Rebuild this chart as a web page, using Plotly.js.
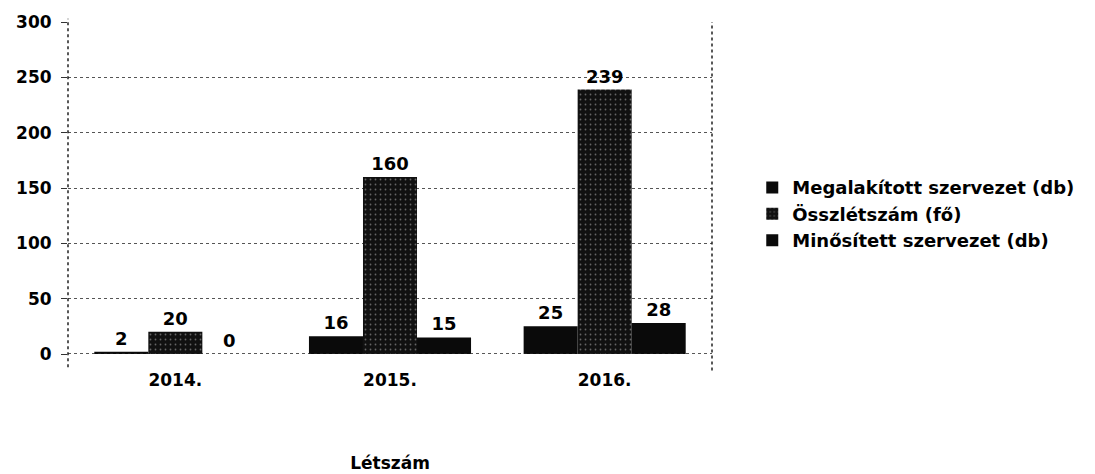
<!DOCTYPE html>
<html>
<head>
<meta charset="utf-8">
<script src="https://cdn.plot.ly/plotly-3.0.1.min.js"></script>
<style>html,body{margin:0;padding:0;background:#fff;}#chart{width:1095px;height:474px;}</style>
</head>
<body>
<div id="chart"></div>
<script>
const categories = ['2014.', '2015.', '2016.'];
const seriesNames = ['Megalakított szervezet (db)', 'Összlétszám (fő)', 'Minősített szervezet (db)'];
const megalakitott = [2, 16, 25];
const osszletszam = [20, 160, 239];
const minositett = [0, 15, 28];
const yTicks = [0, 50, 100, 150, 200, 250, 300];
const xTitle = 'Létszám';

const FONT = 'DejaVu Sans, Liberation Sans, Arial, sans-serif';
const labelFont = {family: FONT, size: 18, color: '#000', weight: 'bold'};

function barTrace(name, values, marker) {
  return {
    type: 'bar', name: name, x: categories, y: values,
    text: values.map(String), textposition: 'outside', cliponaxis: false,
    textfont: labelFont, marker: marker, hoverinfo: 'skip'
  };
}

const traces = [
  barTrace(seriesNames[0], megalakitott, {color: '#0a0a0a', line: {width: 0}}),
  barTrace(seriesNames[1], osszletszam, {color: '#111', line: {width: 0},
    pattern: {shape: '.', bgcolor: '#111', fgcolor: '#666', size: 5, solidity: 0.1}}),
  barTrace(seriesNames[2], minositett, {color: '#0a0a0a', line: {width: 0}})
];

const layout = {
  width: 1095, height: 474,
  paper_bgcolor: '#fff', plot_bgcolor: '#fff',
  margin: {l: 68, r: 383, t: 22, b: 120, autoexpand: false},
  barmode: 'group', bargap: 0.245, bargroupgap: 0,
  showlegend: true,
  legend: {xref: 'container', yref: 'container', x: 0.687, xanchor: 'left', y: 0.548, yanchor: 'middle',
    font: {family: FONT, size: 18, color: '#000', weight: 'bold'},
    tracegroupgap: 0, itemwidth: 30, bgcolor: 'rgba(0,0,0,0)'},
  xaxis: {
    type: 'category', showgrid: false, zeroline: false, showline: false,
    ticks: '', tickfont: {family: FONT, size: 17, color: '#000', weight: 'bold'},
    ticklabelstandoff: 14,
    title: {text: xTitle, font: {family: FONT, size: 17, color: '#000', weight: 'bold'}, standoff: 68}
  },
  yaxis: {
    range: [0, 300], tickvals: yTicks, ticktext: yTicks.map(String),
    showgrid: true, gridcolor: '#555', griddash: 'dot', gridwidth: 1,
    zeroline: false, showline: false,
    ticks: 'outside', ticklen: 6, tickcolor: '#333',
    tickfont: {family: FONT, size: 17, color: '#000', weight: 'bold'},
    ticklabelstandoff: 6
  },
  shapes: [
    {type: 'line', xref: 'paper', yref: 'paper', x0: 0, x1: 0, y0: -0.04, y1: 1.01,
      line: {color: '#222', width: 1.5, dash: 'dot'}},
    {type: 'line', xref: 'paper', yref: 'paper', x0: 1, x1: 1, y0: -0.05, y1: 1,
      line: {color: '#222', width: 1.5, dash: 'dot'}},
    {type: 'line', xref: 'paper', yref: 'y', x0: 0, x1: 1, y0: 0, y1: 0,
      line: {color: '#222', width: 1.5, dash: 'dot'}}
  ]
};

Plotly.newPlot('chart', traces, layout, {displayModeBar: false, staticPlot: true});
</script>
</body>
</html>
